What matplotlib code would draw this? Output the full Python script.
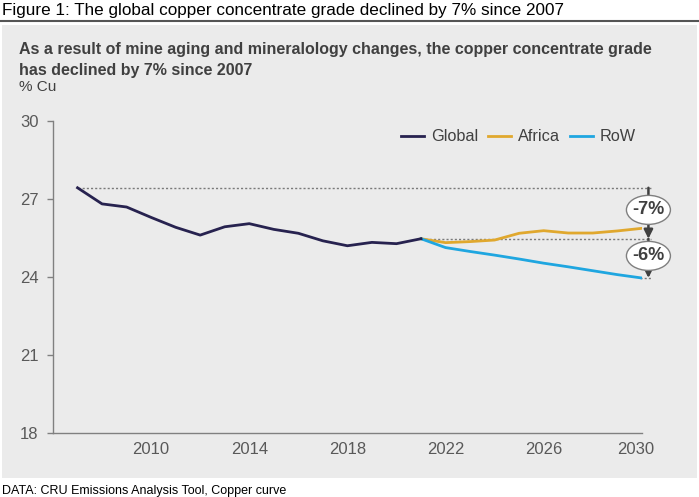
import matplotlib
matplotlib.use("Agg")
import matplotlib.pyplot as plt
from matplotlib.patches import Rectangle, Ellipse
from matplotlib.lines import Line2D
import matplotlib.transforms as mtransforms

plt.rcParams['font.family'] = ['Liberation Sans', 'DejaVu Sans']

# ---- data ----
global_years = [2007, 2008, 2009, 2010, 2011, 2012, 2013, 2014, 2015, 2016,
                2017, 2018, 2019, 2020, 2021]
global_vals = [27.42, 26.80, 26.68, 26.28, 25.90, 25.60, 25.92, 26.04, 25.82,
               25.67, 25.38, 25.19, 25.32, 25.27, 25.46]
proj_years = [2021, 2022, 2023, 2024, 2025, 2026, 2027, 2028, 2029, 2030]
africa_vals = [25.46, 25.31, 25.35, 25.41, 25.67, 25.77, 25.68, 25.68, 25.76, 25.86]
row_vals = [25.46, 25.12, 24.97, 24.83, 24.68, 24.52, 24.38, 24.23, 24.08, 23.95]
x_ticks = [2010, 2014, 2018, 2022, 2026, 2030]
y_ticks = [18, 21, 24, 27, 30]
series_names = ["Global", "Africa", "RoW"]
annot_labels = ["-7%", "-6%"]

W, H = 699, 497
fig = plt.figure(figsize=(W / 100, H / 100), dpi=100)
fig.patch.set_facecolor('white')

def fx(px):
    return px / W

def fy(py):
    return 1 - py / H

# grey panel
fig.patches.append(Rectangle((fx(2), fy(478)), fx(695), (478 - 25) / H,
                             transform=fig.transFigure, facecolor='#ebebeb',
                             edgecolor='none', zorder=-10))
# title and rule
fig.text(fx(2), fy(15), "Figure 1: The global copper concentrate grade declined by 7% since 2007",
         fontsize=12.3, color='black', va='baseline', ha='left')
fig.add_artist(Line2D([0, 1], [fy(20.5), fy(20.5)], transform=fig.transFigure,
                      color='#555555', lw=1.5))
# subtitle
txtc = '#404040'
fig.text(fx(19), fy(54), "As a result of mine aging and mineralology changes, the copper concentrate grade",
         fontsize=11.5, fontweight='bold', color=txtc, va='baseline')
fig.text(fx(19), fy(75), "has declined by 7% since 2007",
         fontsize=11.5, fontweight='bold', color=txtc, va='baseline')
fig.text(fx(19), fy(91), "% Cu", fontsize=11, color=txtc, va='baseline')
# source
fig.text(fx(2), fy(494), "DATA: CRU Emissions Analysis Tool, Copper curve",
         fontsize=9, color='black', va='baseline')

# axes
ax_left, ax_right = 53, 641.8
ax_top, ax_bottom = 120.7, 432.7
ax = fig.add_axes([fx(ax_left), fy(ax_bottom), (ax_right - ax_left) / W,
                   (ax_bottom - ax_top) / H])
ax.set_facecolor('none')
ax.set_xlim(2006, 2030)
ax.set_ylim(18, 30)
for s in ['top', 'right']:
    ax.spines[s].set_visible(False)
for s in ['left', 'bottom']:
    ax.spines[s].set_color('#808080')
    ax.spines[s].set_linewidth(1.0)
ax.set_yticks(y_ticks)
ax.set_xticks(x_ticks)
ax.set_xticklabels([str(v) for v in x_ticks])
ax.tick_params(axis='y', length=4, width=1, color='#808080', pad=6.5,
               labelsize=12, labelcolor='#595959')
ax.tick_params(axis='x', length=0, pad=7, labelsize=12, labelcolor='#595959')
# shift last x label slightly left
lab = ax.get_xticklabels()[-1]
lab.set_transform(lab.get_transform() + mtransforms.ScaledTranslation(-6 / 100, 0, fig.dpi_scale_trans))

c_global = '#27224f'
c_africa = '#e0a82e'
c_row = '#1fa6e0'
lw = 2.0
ax.plot(proj_years, africa_vals, color=c_africa, lw=lw, label=series_names[1], zorder=3)
ax.plot(proj_years, row_vals, color=c_row, lw=lw, label=series_names[2], zorder=3)
ax.plot(global_years, global_vals, color=c_global, lw=lw, label=series_names[0], zorder=4)

# reference dotted lines
xa = 2030.27
dash = dict(color='#7a7a7a', lw=1.0, linestyle=(0, (1.5, 1.5)), zorder=2, clip_on=False)
ax.plot([global_years[0], xa + 0.12], [global_vals[0]] * 2, **dash)
ax.plot([global_years[-1], xa + 0.12], [global_vals[-1]] * 2, **dash)
ax.plot([xa - 0.35, xa + 0.12], [row_vals[-1]] * 2, **dash)

# arrows
arr = dict(arrowstyle='-|>', color='#404040', lw=1.8, mutation_scale=13,
           shrinkA=0, shrinkB=0)
ax.annotate('', xy=(xa, global_vals[-1]), xytext=(xa, global_vals[0]),
            arrowprops=arr, annotation_clip=False, zorder=5)
ax.annotate('', xy=(xa, row_vals[-1]), xytext=(xa, global_vals[-1]),
            arrowprops=arr, annotation_clip=False, zorder=5)

# ellipses
px_per_year = (ax_right - ax_left) / 24
px_per_unit = (ax_bottom - ax_top) / 12
ew = 44 / px_per_year
eh = 29 / px_per_unit
for yv, t in [(26.57, annot_labels[0]), (24.80, annot_labels[1])]:
    ax.add_patch(Ellipse((xa, yv), ew, eh, facecolor='white', edgecolor='#7f7f7f',
                         lw=1.0, zorder=6, clip_on=False))
    ax.text(xa, yv, t, ha='center', va='center', fontsize=13, fontweight='bold',
            color='#404040', zorder=7, clip_on=False)

# legend
handles = [Line2D([], [], color=c, lw=lw) for c in (c_global, c_africa, c_row)]
leg = ax.legend(handles, series_names, loc='center left',
                bbox_to_anchor=(fx(401), fy(137)), bbox_transform=fig.transFigure,
                ncol=3, frameon=False, fontsize=11.7, handlelength=1.4,
                handletextpad=0.45, columnspacing=0.6, borderpad=0, borderaxespad=0)
for t in leg.get_texts():
    t.set_color('#404040')

fig.savefig('out.png', dpi=100)
